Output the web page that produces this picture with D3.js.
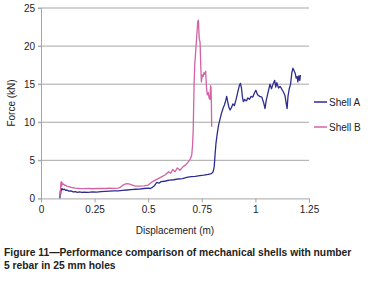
<!DOCTYPE html>
<html>
  <head>
    <script src="https://cdn.jsdelivr.net/npm/d3@7/dist/d3.min.js" charset="utf-8"></script>
    <style>
      body { margin: 0; background: white; }
      text { font-family: "Liberation Sans", Arial, sans-serif; }
    </style>
  </head>
  <body>
    <svg id="chart" width="370" height="288"></svg>
    <script>
      var seriesNames = ["Shell A", "Shell B"];
      var xTicks = [0, 0.25, 0.5, 0.75, 1, 1.25];
      var yTicks = [0, 5, 10, 15, 20, 25];

      var dispA = [0.088, 0.090, 0.092, 0.094, 0.097, 0.100, 0.105, 0.110, 0.115, 0.120, 0.130, 0.140, 0.150, 0.160, 0.170, 0.180, 0.190, 0.200, 0.220, 0.240, 0.260, 0.280, 0.300, 0.320, 0.340, 0.360, 0.380, 0.400, 0.420, 0.440, 0.460, 0.480, 0.500, 0.510, 0.520, 0.530, 0.540, 0.550, 0.560, 0.575, 0.590, 0.600, 0.620, 0.640, 0.660, 0.680, 0.700, 0.720, 0.740, 0.760, 0.780, 0.795, 0.803, 0.808, 0.812, 0.816, 0.822, 0.828, 0.835, 0.842, 0.850, 0.856, 0.862, 0.866, 0.870, 0.876, 0.882, 0.888, 0.895, 0.902, 0.910, 0.918, 0.925, 0.930, 0.935, 0.940, 0.944, 0.950, 0.958, 0.965, 0.972, 0.980, 0.988, 0.995, 1.002, 1.010, 1.020, 1.030, 1.038, 1.045, 1.050, 1.058, 1.068, 1.075, 1.082, 1.090, 1.095, 1.100, 1.108, 1.115, 1.122, 1.130, 1.138, 1.144, 1.148, 1.152, 1.158, 1.164, 1.170, 1.175, 1.180, 1.186, 1.190, 1.195, 1.198, 1.203, 1.207, 1.210];
      var forceA = [0, 1.0, 0.6, 1.3, 1.1, 1.25, 1.15, 1.2, 1.05, 1.1, 0.95, 0.98, 0.85, 0.9, 0.8, 0.85, 0.78, 0.82, 0.8, 0.85, 0.83, 0.9, 0.92, 0.95, 0.98, 1.0, 1.05, 1.1, 1.15, 1.2, 1.22, 1.3, 1.35, 1.3, 1.45, 1.7, 2.1, 2.0, 2.2, 2.25, 2.35, 2.4, 2.45, 2.55, 2.6, 2.75, 2.85, 2.9, 3.0, 3.05, 3.15, 3.25, 3.5, 4.2, 5.8, 7.2, 8.5, 9.6, 10.4, 11.2, 11.9, 12.3, 12.9, 13.4, 12.8, 12.0, 11.6, 11.9, 12.4, 12.2, 13.0, 14.0, 14.8, 15.1, 14.5, 13.2, 12.7, 13.0, 12.8, 13.2, 13.0, 13.4, 13.3, 13.8, 14.2, 13.6, 13.4, 13.3, 12.6, 11.8, 12.8, 13.8, 15.0, 14.4, 15.0, 15.5, 14.6, 15.2, 14.5, 14.7, 14.4, 14.0, 13.5, 12.4, 11.8, 13.4, 14.4, 15.0, 16.5, 17.1, 16.8, 16.4, 15.8, 16.0, 15.3, 16.1, 15.5, 16.2];

      var dispB = [0.090, 0.092, 0.094, 0.096, 0.098, 0.100, 0.105, 0.110, 0.115, 0.120, 0.130, 0.140, 0.150, 0.160, 0.180, 0.200, 0.220, 0.240, 0.260, 0.280, 0.300, 0.320, 0.340, 0.360, 0.370, 0.380, 0.395, 0.405, 0.420, 0.440, 0.460, 0.480, 0.500, 0.510, 0.520, 0.540, 0.560, 0.580, 0.595, 0.605, 0.614, 0.625, 0.636, 0.648, 0.664, 0.675, 0.687, 0.697, 0.703, 0.707, 0.710, 0.712, 0.714, 0.717, 0.722, 0.727, 0.731, 0.734, 0.738, 0.742, 0.745, 0.748, 0.752, 0.756, 0.760, 0.765, 0.768, 0.772, 0.776, 0.780, 0.784, 0.788, 0.791, 0.793, 0.795, 0.796];
      var forceB = [0.5, 1.8, 2.2, 1.6, 2.1, 1.8, 1.9, 1.7, 1.75, 1.6, 1.55, 1.45, 1.4, 1.35, 1.3, 1.28, 1.3, 1.27, 1.3, 1.32, 1.3, 1.33, 1.32, 1.35, 1.45, 1.7, 1.9, 1.95, 1.8, 1.6, 1.6, 1.65, 1.75, 2.0, 2.2, 2.5, 2.8, 3.1, 3.5, 3.3, 3.8, 3.5, 4.0, 3.7, 4.2, 4.4, 4.8, 5.2, 5.7, 7.0, 9.0, 12.0, 15.0, 17.5, 19.5, 21.5, 23.2, 23.4, 21.0, 20.5, 17.5, 15.3, 16.2, 16.0, 16.5, 16.3, 16.7, 14.5, 13.6, 13.9, 13.2, 13.0, 14.8, 14.5, 12.0, 9.4];

      var colors = ["#2e2d8e", "#d363a6"];

      var svg = d3.select("#chart");
      var x = d3.scaleLinear().domain([0, 1.25]).range([41, 309]);
      var y = d3.scaleLinear().domain([0, 25]).range([198.4, 8]);

      // gridlines
      svg.append("g").selectAll("line").data(yTicks.slice(1)).enter().append("line")
        .attr("x1", 38).attr("x2", x(1.25))
        .attr("y1", d => y(d)).attr("y2", d => y(d))
        .attr("stroke", "#a6a6a6").attr("stroke-width", 1);

      // y axis
      var yAxis = svg.append("g").attr("transform", "translate(41,0)")
        .call(d3.axisLeft(y).tickValues(yTicks).tickSize(3).tickFormat(d3.format("d")));
      yAxis.select(".domain").attr("stroke", "#a6a6a6");
      yAxis.selectAll(".tick line").attr("stroke", "#a6a6a6");
      yAxis.selectAll("text").attr("font-size", 10).attr("fill", "#222").attr("x", -6)
        .style("font-family", "'Liberation Sans', Arial, sans-serif");

      // x axis
      var xAxis = svg.append("g").attr("transform", "translate(0," + y(0) + ")")
        .call(d3.axisBottom(x).tickValues(xTicks).tickSize(4).tickFormat(d => String(d)));
      xAxis.select(".domain").attr("stroke", "#a6a6a6");
      xAxis.selectAll(".tick line").attr("stroke", "#a6a6a6");
      xAxis.selectAll("text").attr("font-size", 10).attr("fill", "#222").attr("y", 8)
        .style("font-family", "'Liberation Sans', Arial, sans-serif");

      // lines
      var series = [
        d3.zip(dispA, forceA),
        d3.zip(dispB, forceB)
      ];
      var line = d3.line().x(d => x(d[0])).y(d => y(d[1]));
      svg.append("g").selectAll("path").data(series).enter().append("path")
        .attr("d", line)
        .attr("fill", "none")
        .attr("stroke", (d, i) => colors[i])
        .attr("stroke-width", 1.3)
        .attr("stroke-linejoin", "round");

      // legend
      var leg = svg.append("g").selectAll("g").data(seriesNames).enter().append("g")
        .attr("transform", (d, i) => "translate(314," + (102 + i * 25) + ")");
      leg.append("line").attr("x1", 0).attr("x2", 13)
        .attr("stroke", (d, i) => colors[i]).attr("stroke-width", 1.5);
      leg.append("text").attr("x", 15).attr("y", 3.5).attr("font-size", 10).attr("fill", "#222")
        .text(d => d);

      // axis titles
      svg.append("text").attr("x", 175).attr("y", 234).attr("text-anchor", "middle")
        .attr("font-size", 10).attr("fill", "#222").text("Displacement (m)");
      svg.append("text").attr("transform", "translate(15,103) rotate(-90)")
        .attr("text-anchor", "middle").attr("font-size", 10).attr("fill", "#222").text("Force (kN)");

      // caption
      var cap = svg.append("text").attr("x", 4).attr("font-size", 10.3).attr("font-weight", "bold").attr("fill", "#222");
      cap.append("tspan").attr("x", 4).attr("y", 256).text("Figure 11\u2014Performance comparison of mechanical shells with number");
      cap.append("tspan").attr("x", 4).attr("y", 269).text("5 rebar in 25 mm holes");
    </script>
  </body>
</html>
